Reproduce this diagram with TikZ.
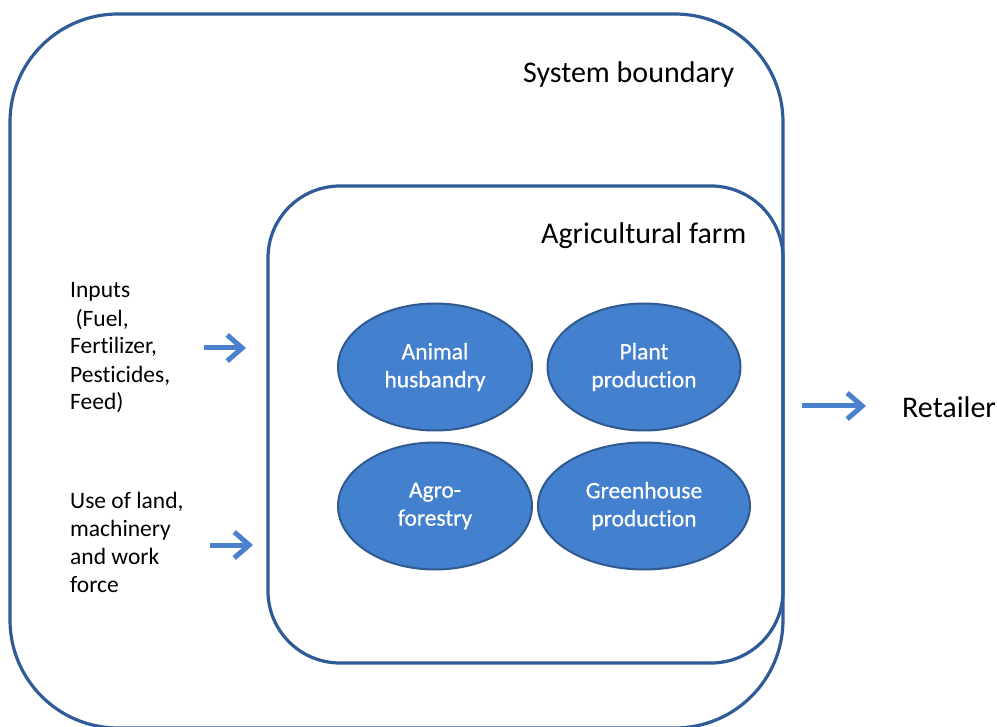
\documentclass[tikz,border=0pt]{standalone}
\usepackage{fontspec}
\setmainfont{Carlito}[RawFeature={-liga;-clig;-calt;-dlig}]
\newfontfamily\ellfont{Carlito}[RawFeature={-liga;-clig;-calt;-dlig},FakeBold=0.6]
\usetikzlibrary{arrows.meta,shapes.geometric}
\definecolor{boxline}{HTML}{2F5B97}
\definecolor{ellfill}{HTML}{4380CE}
\definecolor{ellline}{HTML}{30598F}
\definecolor{arrcol}{HTML}{4A80CC}
\tikzset{
  boundary/.style={draw=boxline,line width=3.2pt},
  unit/.style={ellipse,draw=ellline,line width=2pt,fill=ellfill,text=white,
    inner sep=0pt,align=center,font=\ellfont\fontsize{23.5}{28}\selectfont},
  bigtext/.style={font=\fontsize{30}{36}\selectfont,inner sep=0pt,anchor=base west},
  sidetext/.style={font=\fontsize{23.5}{28}\selectfont,inner sep=0pt,align=left,anchor=base west},
  flow/.style={draw=arrcol,line width=5pt,-{Straight Barb[length=15pt,width=26pt]}}
}
\begin{document}
\begin{tikzpicture}[x=1pt,y=-1pt]
\useasboundingbox (0,0) rectangle (997,727);
% outer system boundary
\draw[boundary,rounded corners=108pt] (10,14) rectangle (783,728);
% inner farm
\draw[boundary,rounded corners=72pt] (268,186) rectangle (783,663);
\node[bigtext] (sb) at (523,83) {System boundary};
\node[bigtext] (af) at (541,244) {Agricultural farm};
\node[bigtext] (ret) at (902,418) {Retailer};
% units
\node[unit,minimum width=194pt,minimum height=127pt] (ah) at (435,367) {Animal\\husbandry};
\node[unit,minimum width=193pt,minimum height=127pt] (pp) at (644,367) {Plant\\production};
\node[unit,minimum width=194pt,minimum height=127pt] (agf) at (435,506) {Agro-\\forestry};
\node[unit,minimum width=212pt,minimum height=127pt] (gh) at (644,506) {Greenhouse\\production};
% side texts (base anchor = last line)
\node[sidetext] (inp) at (70,410) {Inputs\\\ (Fuel,\\Fertilizer,\\Pesticides,\\Feed)};
\node[sidetext] (use) at (70,592) {Use of land,\\machinery\\and work\\force};
% arrows
\coordinate (a1s) at (204,348);
\coordinate (a1e) at (246,348);
\coordinate (a2s) at (210,545);
\coordinate (a2e) at (253,545);
\coordinate (a3s) at (802,406);
\coordinate (a3e) at (866,406);
\draw[flow] (a1s) -- (a1e);
\draw[flow] (a2s) -- (a2e);
\draw[flow] (a3s) -- (a3e);
\end{tikzpicture}
\end{document}
